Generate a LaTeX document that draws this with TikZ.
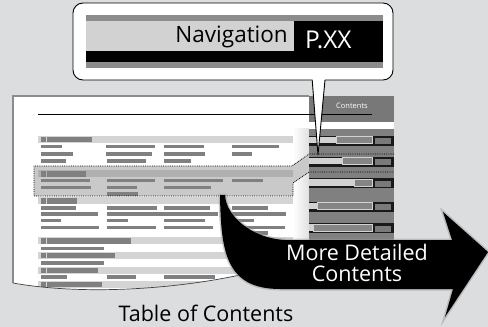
\documentclass[tikz,border=0pt]{standalone}
\usepackage{fontspec}
\setmainfont{Open Sans}
\usepackage{tikz}
\usetikzlibrary{calc}

\definecolor{bggray}{RGB}{220,221,223}
\definecolor{bandgray}{RGB}{212,212,212}
\definecolor{bargray}{RGB}{128,128,128}
\definecolor{panelgray}{RGB}{128,128,128}
\definecolor{hlgray}{RGB}{201,201,201}
\definecolor{hlband}{RGB}{176,176,176}
\definecolor{navlight}{RGB}{210,210,210}

\begin{document}
\begin{tikzpicture}[x=1pt,y=-1pt,
  bar/.style={fill=bargray},
  band/.style={fill=bandgray},
  dots/.style={densely dotted, line width=0.8pt},
  bigtext/.style={font=\fontsize{21.5}{23}\selectfont}]

\fill[bggray] (0,0) rectangle (488,327);
\useasboundingbox (0,0) rectangle (488,327);

% page
\coordinate (PB) at (13,283);
\coordinate (PT) at (13,96);
\coordinate (PR) at (309,96);

\fill[white] (PB) -- (PT) -- (PR) -- (309,283) -- (240,275)
  .. controls (170,290) and (80,295) .. (PB) -- cycle;

\begin{scope}
\clip (PB) -- (PT) -- (PR) -- (309,283) -- (240,275)
  .. controls (170,290) and (80,295) .. (PB) -- cycle;

\shade[left color=white, right color=black!12] (293,128) rectangle (309,283);

% highlighted entry
\fill[hlgray] (34,166) -- (292,166) -- (309,154) -- (309,172)
  -- (293,183) -- (293,196) -- (34,196) -- cycle;

% section headings
\foreach \yy/\xb in {136/92, 197.3/76.7, 237.3/130.7, 252/115, 266.7/97.7, 281/101.7}{
  \fill[band] (38,\yy) rectangle (293,\yy+7);
  \fill[bar] (41,\yy+0.8) rectangle (45.7,\yy+6.2);
  \fill[bar] (47,\yy+0.8) rectangle (\xb,\yy+6.2);
}
\fill[hlband] (38,170) rectangle (293,177.3);
\fill[bar] (41,170.8) rectangle (45.7,176.5);
\fill[bar] (47,170.8) rectangle (86,176.5);

% entries
\foreach \xa/\xb/\yy in {41/61.7/144.7, 106/155/144.7, 164/204/144.7, 232/278.7/144.7,
  41/72.7/152, 106/151.7/152, 164/205/152, 232/252/152,
  41/65.7/159, 107/146/159, 164/191/159,
  41/90/178.7, 106.7/155/178.7, 164/222.7/178.7, 232/262.7/178.7,
  41/91/185.7, 106.7/136.7/185.7, 164/210.7/185.7,
  106.7/138/192,
  41/76/206, 106.7/156.7/206, 164/210/206, 232/268/206,
  41/98/212, 106.7/218/212, 232/286/212,
  41/61/218.7, 106.7/128/218.7, 164/205/218.7, 232/254/218.7,
  41/99/225.7, 106.7/156/225.7, 164/213/225.7, 232/285/225.7,
  232/267.7/231,
  41/104/246.7,
  41/104/261.3,
  41/66.7/275.3, 106.7/135.7/275.3, 164/215/275.3}
  \fill[bar] (\xa,\yy) rectangle (\xb,\yy+3.6);
\end{scope}

\draw[black!45, line width=1.2pt] (PB) -- (PT) -- (PR);
\draw[black!75, line width=0.7pt] (PB) .. controls (80,295) and (170,290) .. (240,275);

% contents panel
\fill[panelgray] (309,96) rectangle (394,240);
\fill[black!53] (309,96) rectangle (394,122);
\fill[white] (309,122) rectangle (394,129);
\foreach \yy/\xs in {135.7/336, 156.7/342, 178.3/354, 201.7/317, 223.3/313}{
  \fill[black!90] (309,\yy) rectangle (394,\yy+10);
  \fill[navlight] (309,\yy+1) rectangle (\xs,\yy+7.5);
  \draw[navlight, line width=0.5pt, fill=black!48] (\xs,\yy+1) rectangle (372,\yy+7.5);
  \fill[black!52] (375,\yy+2.5) rectangle (391,\yy+8.5);
}
\node[white, font=\fontsize{7.5}{8}\selectfont, anchor=base] (panelhead) at (352,108) {Contents};
\draw[line width=0.9pt] (38,114) -- (372,114);

\draw[dots] (394,154) -- (309,154) -- (292,166) -- (34,166) -- (34,196)
  -- (293,196) -- (293,183) -- (309,172) -- (394,172);

% callout
\draw[fill=white, line width=0.9pt, rounded corners=10pt] (73,3) rectangle (393,80);
\fill[black!45] (86,15) rectangle (383,68);
\fill[black] (86,21) rectangle (383,62);
\fill[navlight] (86,21) rectangle (294,51);
\node[font=\fontsize{22.5}{24}\selectfont, anchor=base east, inner sep=0pt] (nav) at (288,42) {Navigation};
\node[white, font=\fontsize{24.5}{26}\selectfont, anchor=base west, inner sep=0pt] (pxx) at (305,48) {P.XX};

\coordinate (tip) at (318,155);
\fill[white] (312.4,79.2) -- (324.8,79.2) -- (tip) -- cycle;
\draw[line width=0.9pt] (312.2,80) -- (tip) -- (325,80);

% arrow
\path[fill=black, preaction={draw=black!40, line width=3pt, opacity=0.5}]
  (220,195) .. controls (221,250) and (225,289) .. (280,289) -- (453,289)
  -- (445,317) -- (488,252) -- (443,212) -- (452,240) -- (285,240)
  .. controls (250,238) and (226,215) .. (225,195) -- cycle;
\node[white, bigtext, anchor=base, inner sep=0pt] (more) at (357,260) {More Detailed};
\node[white, bigtext, anchor=base, inner sep=0pt] (morecont) at (357,281.7) {Contents};

\node[bigtext, anchor=base, inner sep=0pt] (toc) at (206,321.5) {Table of Contents};

\end{tikzpicture}
\end{document}
